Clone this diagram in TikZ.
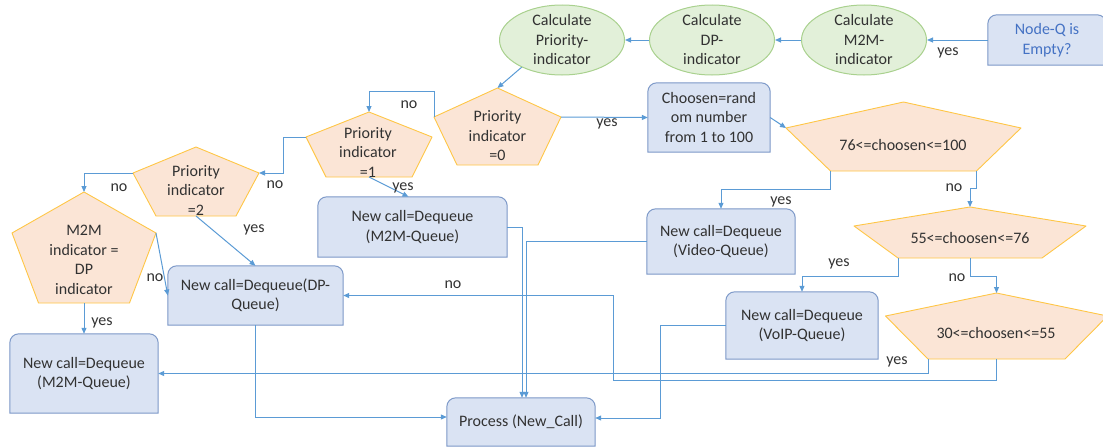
\documentclass[tikz,border=0pt]{standalone}
\usepackage{fontspec}
\setmainfont{Carlito}
\usepackage{xcolor}
\usepackage{tikz}
\usetikzlibrary{shapes.geometric, arrows.meta, backgrounds}
\definecolor{linebl}{RGB}{91,155,213}
\definecolor{boxbg}{RGB}{218,227,243}
\definecolor{boxdraw}{RGB}{124,152,200}
\definecolor{ellbg}{RGB}{226,240,217}
\definecolor{elldraw}{RGB}{169,209,142}
\definecolor{pentbg}{RGB}{251,229,214}
\definecolor{pentdraw}{RGB}{255,198,70}
\definecolor{txt}{RGB}{50,50,50}
\definecolor{qtxt}{RGB}{68,114,196}
\newcommand{\dfont}{\fontsize{16}{19.5}\selectfont}
% pentagon: name, cx, top, side y, bottom y, half width, half bottom
\newcommand{\decision}[7]{%
  \draw[pent] (#2,#3) coordinate (#1-t) -- (#2+#6,#4) coordinate (#1-r)
    -- (#2+#7,#5) coordinate (#1-br) -- (#2,#5) coordinate (#1-b)
    -- (#2-#7,#5) coordinate (#1-bl) -- (#2-#6,#4) coordinate (#1-l) -- cycle;}
% box outline, top corners rounded
\newcommand{\topround}[1]{%
  \draw[shp] (#1.south west) -- ([yshift=-9pt]#1.north west)
    arc[start angle=180, end angle=90, radius=9pt] -- ([xshift=-9pt]#1.north east)
    arc[start angle=90, end angle=0, radius=9pt] -- (#1.south east) -- cycle;}

\begin{document}
\begin{tikzpicture}[x=1pt, y=-1pt,
  box/.style={rectangle, inner sep=0pt, text=txt, font=\dfont, align=center},
  calcnode/.style={ellipse, minimum width=125pt, minimum height=70pt, inner xsep=0pt, inner ysep=-5pt, draw=elldraw, fill=ellbg, line width=1pt, text=txt, font=\dfont, align=center},
  pent/.style={draw=pentdraw, fill=pentbg, line width=0.9pt, line join=round},
  ptext/.style={text=txt, font=\dfont, align=center, inner sep=0pt},
  lbl/.style={text=txt, font=\dfont, inner sep=0pt},
  arr/.style={-{Triangle[length=6pt,width=5pt]}, linebl, line width=1pt},
  shp/.style={draw=boxdraw, fill=boxbg, line width=1pt}
]
\useasboundingbox (0,0) rectangle (1103,447);
\clip (0,0) rectangle (1103,447);

% boxes
\node[box, minimum width=118pt, minimum height=50pt, text=qtxt] (nodeq) at (1047,40) {Node-Q is\\Empty?};
\node[box, minimum width=122pt, minimum height=69pt] (choosen) at (709,117.5) {Choosen=rand\\om number\\from 1 to 100};
\node[box, minimum width=189pt, minimum height=60pt] (m2mq) at (412.5,227) {New call=Dequeue\\(M2M-Queue)};
\node[box, minimum width=175pt, minimum height=59pt] (dpq) at (255.5,295.5) {New call=Dequeue(DP-\\Queue)};
\node[box, minimum width=148pt, minimum height=79pt] (lm2mq) at (84,373.5) {New call=Dequeue\\(M2M-Queue)};
\node[box, minimum width=148pt, minimum height=65pt] (video) at (721,241.5) {New call=Dequeue\\(Video-Queue)};
\node[box, minimum width=152pt, minimum height=67pt] (voip) at (802,325.5) {New call=Dequeue\\(VoIP-Queue)};
\node[box, minimum width=148pt, minimum height=48pt] (process) at (521,422) {Process (New\_Call)};
\begin{pgfonlayer}{background}
  \foreach \b in {nodeq,choosen,m2mq,dpq,lm2mq,video,voip,process}
    {\topround{\b}}
\end{pgfonlayer}

% indicators
\node[calcnode] (m2mcalc) at (864,40) {Calculate\\M2M-\\indicator};
\node[calcnode] (dpcalc) at (712,40) {Calculate\\DP-\\indicator};
\node[calcnode] (prcalc) at (562,40) {Calculate\\Priority-\\indicator};

% decisions
\decision{p0}{497.5}{88}{117}{165}{63.5}{40.5}
\node[ptext] (p0txt) at (497.5,136) {Priority\\indicator\\=0};
\decision{p1}{369}{112}{137}{177}{63}{43}
\node[ptext] (p1txt) at (368,152) {Priority\\indicator\\=1};
\decision{p2}{196}{147}{173}{216}{63}{40}
\node[ptext] (p2txt) at (196,190) {Priority\\indicator\\=2};
\decision{pm}{84}{192}{233}{303}{72}{45.5}
\node[ptext] (pmtxt) at (84,260) {M2M\\indicator =\\DP\\indicator};
\decision{p76}{903.5}{102}{128}{171}{117.5}{73}
\node[ptext] (p76txt) at (903,145) {76<=choosen<=100};
\decision{p55}{970}{207}{226}{258}{116}{72}
\node[ptext] (p55txt) at (970,238) {55<=choosen<=76};
\decision{p30}{996.5}{293}{316}{359}{111}{68.5}
\node[ptext] (p30txt) at (996,333) {30<=choosen<=55};

% connectors
\draw[arr] (nodeq) -- (m2mcalc);
\draw[arr] (m2mcalc) -- (dpcalc);
\draw[arr] (dpcalc) -- (prcalc);
\draw[arr] (prcalc.214) -- (p0-t);
\draw[arr] (p0-r) -- (choosen.west);
\draw[arr] (choosen.east) -- (p76-l);
\draw[arr] (p0-l) -- ++(0,-26) -| (p1-t);
\draw[arr] (p1-l) -- ++(-23,0) |- (p2-r);
\draw[arr] (p2-l) -| (pm-t);
\draw[arr] (p1-b) -- ([xshift=-4pt]m2mq.north);
\draw[arr] (p2-b) -- (dpq.north);
\draw[arr] (pm-r) -- (dpq.west);
\draw[arr] (pm-b) -- (lm2mq.north);
\draw[arr] (p76-bl) -- ++(0,18) -| (video.north);
\draw[arr] (p76-br) -- ++(0,17) -| (p55-t);
\draw[arr] (p55-bl) -- ++(0,18) -| (voip.north);
\draw[arr] (p55-b) -- ++(0,18) -| (p30-t);
\draw[arr] (p30-bl) |- (lm2mq.east);
\draw[arr] (p30-b) -- ++(0,21) -- ++(-383,0) |- (dpq.east);
\draw[arr] (voip.west) -- ++(-65,0) |- ([yshift=4pt]process.east);
\draw[arr] (video.west) -| ([xshift=5pt]process.north);
\draw[arr] (m2mq.east) -| ([xshift=1pt]process.north);
\draw[arr] (dpq.south) |- ([yshift=5pt]process.west);

% labels
\node[lbl] (y1) at (948,53) {yes};
\node[lbl] (y2) at (607,124) {yes};
\node[lbl] (n1) at (409,105) {no};
\node[lbl] (n2) at (275,185) {no};
\node[lbl] (n3) at (119,188) {no};
\node[lbl] (y3) at (403,188) {yes};
\node[lbl] (y4) at (254,230) {yes};
\node[lbl] (n4) at (155,278) {no};
\node[lbl] (y5) at (102,323) {yes};
\node[lbl] (y6) at (781,202) {yes};
\node[lbl] (n5) at (954,188) {no};
\node[lbl] (y7) at (839,264) {yes};
\node[lbl] (n6) at (957,278) {no};
\node[lbl] (y8) at (897,362) {yes};
\node[lbl] (n7) at (453,285) {no};
\end{tikzpicture}
\end{document}
